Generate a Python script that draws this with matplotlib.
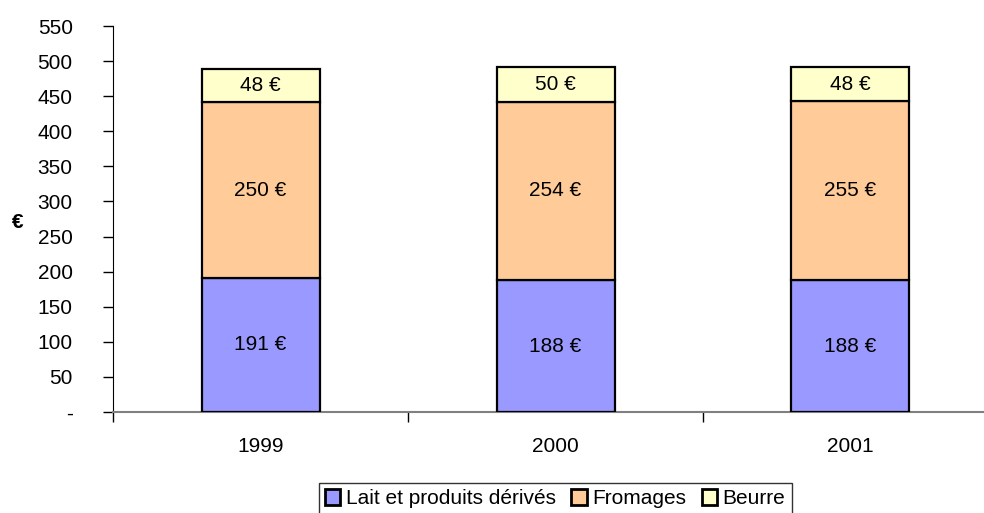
import numpy as np
import matplotlib.pyplot as plt
from matplotlib.ticker import FixedLocator, FuncFormatter

plt.rcParams['font.family'] = ['Liberation Sans', 'DejaVu Sans']

years = ['1999', '2000', '2001']
lait = [191, 188, 188]
fromages = [250, 254, 255]
beurre = [48, 50, 48]
series_names = ['Lait et produits dérivés', 'Fromages', 'Beurre']
colors = ['#9999FF', '#FFCC99', '#FFFFCC']

fig = plt.figure(figsize=(9.84, 5.13), dpi=100)
# the category axis runs a little past the right edge of the picture
ax = fig.add_axes([113/984, 1 - 412/513, 885/984, (412 - 26)/513])

x = np.arange(len(years))
bottom = np.zeros(len(years))
for vals, name, col in zip([lait, fromages, beurre], series_names, colors):
    vals = np.array(vals)
    ax.bar(x, vals, 0.4, bottom=bottom, color=col, edgecolor='black',
           linewidth=1.6, label=name, zorder=3)
    for xi, b, v in zip(x, bottom, vals):
        ax.text(xi, b + v / 2, f'{v} €', ha='center', va='center', fontsize=15, zorder=4)
    bottom = bottom + vals

ax.yaxis.set_major_locator(FixedLocator(np.arange(0, 551, 50)))
ax.yaxis.set_major_formatter(FuncFormatter(lambda v, p: '-' if v == 0 else f'{int(v)}'))
ax.tick_params(axis='y', labelsize=15, length=7, width=1, direction='out', pad=22)

ax.set_xticks(x)
ax.set_xticklabels(years, fontsize=15)
ax.tick_params(axis='x', which='major', length=0, pad=18)
ax.set_xticks([-0.5, 0.5, 1.5, 2.5], minor=True)
ax.tick_params(axis='x', which='minor', length=7, width=1, color='black')
ax.set_ylim(0, 550)
ax.set_xlim(-0.5, 2.5)

for s in ['top', 'right']:
    ax.spines[s].set_visible(False)
ax.spines['bottom'].set_color('#808080')
ax.spines['bottom'].set_linewidth(1.5)
ax.spines['left'].set_color('black')

fig.text(18/984, 1 - 223/513, '€', fontsize=15, fontweight='bold', ha='center', va='center')

leg = fig.legend(loc='upper center', bbox_to_anchor=(555/984, 1 - 483/513), ncol=3,
                 fontsize=15, frameon=True, fancybox=False, edgecolor='black',
                 handlelength=0.75, handleheight=0.75, handletextpad=0.25,
                 columnspacing=0.75, borderpad=0.3, borderaxespad=0)
leg.get_frame().set_linewidth(1)
for h in leg.legend_handles:
    h.set_linewidth(2)

fig.savefig('out.png', dpi=100)
